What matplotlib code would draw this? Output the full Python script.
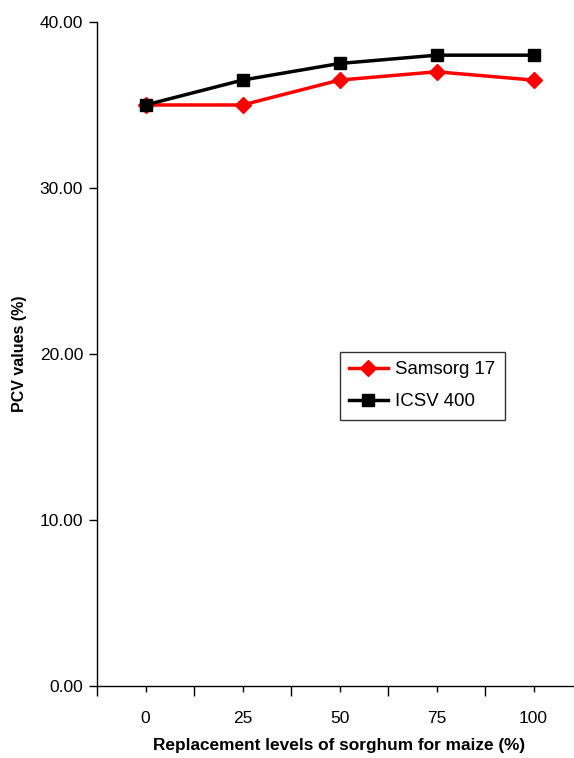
import matplotlib
matplotlib.use("Agg")
import matplotlib.pyplot as plt
from matplotlib.ticker import FixedLocator, FormatStrFormatter

plt.rcParams["font.family"] = ["Liberation Sans", "DejaVu Sans"]

levels = ["0", "25", "50", "75", "100"]
samsorg = [35.0, 35.0, 36.5, 37.0, 36.5]
icsv = [35.0, 36.5, 37.5, 38.0, 38.0]

fig = plt.figure(figsize=(5.74, 7.58), dpi=100)
ax = fig.add_axes([0.169, 0.095, 0.845, 0.876])

x = list(range(len(levels)))
ax.plot(x, samsorg, color="#ff0000", lw=2.5, marker="D", ms=8, label="Samsorg 17", zorder=3)
ax.plot(x, icsv, color="black", lw=2.5, marker="s", ms=9, label="ICSV 400", zorder=4)

ax.set_xlim(-0.5, len(levels) - 0.5)
ax.set_ylim(0, 40)
ax.set_yticks([0, 10, 20, 30, 40])
ax.yaxis.set_major_formatter(FormatStrFormatter("%.2f"))

# category axis: long ticks between categories, short ones at them
ax.xaxis.set_major_locator(FixedLocator([i - 0.5 for i in range(len(levels) + 1)]))
ax.set_xticklabels([])
ax.set_xticks(x, levels, minor=True)
ax.tick_params(axis="x", which="major", length=7, width=1, direction="out")
ax.tick_params(axis="x", which="minor", length=4, width=1, direction="out", pad=14, labelsize=12.5)
ax.tick_params(axis="y", length=6, width=1, direction="out", labelsize=12.5, pad=4)

for side in ("top", "right"):
    ax.spines[side].set_visible(False)
for side in ("left", "bottom"):
    ax.spines[side].set_linewidth(1)

ax.set_xlabel("Replacement levels of sorghum for maize (%)", fontsize=12.4, fontweight="bold", labelpad=9)
ax.set_ylabel("PCV values (%)", fontsize=11.5, fontweight="bold", labelpad=9)

leg = ax.legend(loc="upper left", bbox_to_anchor=(0.5, 0.503), fontsize=13.4, frameon=True,
                fancybox=False, edgecolor="black", handlelength=2.1, borderpad=0.5,
                labelspacing=0.8, handletextpad=0.4, borderaxespad=0)
leg.get_frame().set_linewidth(1)

fig.savefig("out.png", dpi=100)
